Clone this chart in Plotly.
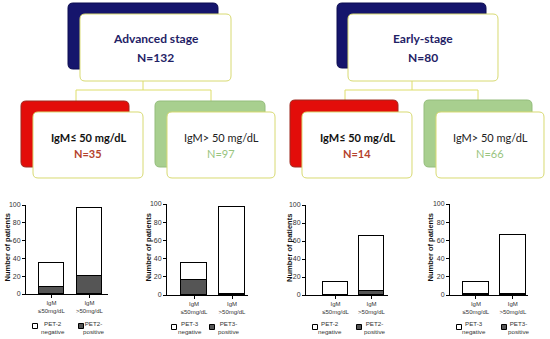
import plotly.graph_objects as go

W, H = 550, 339

# ---------------- data ----------------
categories = ["IgM<br>≤50mg/dL", "IgM<br>>50mg/dL"]
pet2_adv_pos = [8, 20]
pet2_adv_neg = [27, 77]
pet3_adv_pos = [17, 1]
pet3_adv_neg = [18, 96]
pet2_early_pos = [0, 4]
pet2_early_neg = [14, 62]
pet3_early_pos = [1, 1]
pet3_early_neg = [13, 65]
y_ticks = [0, 20, 40, 60, 80, 100]
legend_neg = ["PET-2<br>negative", "PET-3<br>negative", "PET-2<br>negative", "PET-3<br>negative"]
legend_pos = ["PET2-<br>positive", "PET3-<br>positive", "PET2-<br>positive", "PET3-<br>positive"]

stage_titles = ["Advanced stage", "Early-stage"]
stage_n = ["N=132", "N=80"]
low_n = ["N=35", "N=14"]
high_n = ["N=97", "N=66"]

# ---------------- helpers ----------------
def X(px):
    return px / W

def Y(py):
    return 1 - py / H

def rr(x0, y0, x1, y1, r=5):
    pts = [
        ("M", [(x0 + r, y0)]), ("L", [(x1 - r, y0)]), ("Q", [(x1, y0), (x1, y0 + r)]),
        ("L", [(x1, y1 - r)]), ("Q", [(x1, y1), (x1 - r, y1)]), ("L", [(x0 + r, y1)]),
        ("Q", [(x0, y1), (x0, y1 - r)]), ("L", [(x0, y0 + r)]), ("Q", [(x0, y0), (x0 + r, y0)]),
    ]
    s = ""
    for cmd, ps in pts:
        s += cmd + " " + " ".join(f"{X(a):.5f},{Y(b):.5f}" for a, b in ps) + " "
    return s + "Z"

shapes = []
annotations = []

def line(x0, y0, x1, y1, color="#dede6a", w=1):
    shapes.append(dict(type="line", xref="paper", yref="paper", x0=X(x0), y0=Y(y0),
                       x1=X(x1), y1=Y(y1), line=dict(color=color, width=w)))

def box(x0, y0, x1, y1, fill, border, w=1, r=5):
    shapes.append(dict(type="path", xref="paper", yref="paper", path=rr(x0, y0, x1, y1, r),
                       fillcolor=fill, line=dict(color=border, width=w)))

def text(x, y, s, size, color, font="Lato", bold=False, angle=0):
    annotations.append(dict(xref="paper", yref="paper", x=X(x), y=Y(y), text=(f"<b>{s}</b>" if bold else s),
                            showarrow=False, xanchor="center", yanchor="middle", textangle=angle,
                            font=dict(family=font, size=size, color=color)))

# ---------------- flowchart ----------------
FRONT_BORDER = "#d8da72"
NAVY = "#15156c"
sides = [
    dict(top_back=(68, 3, 218, 69), top_front=(80, 14, 231, 81), stem=143, hl=(76, 211),
         red_back=(21, 101, 129, 167), red_front=(33, 112, 143, 178),
         grn_back=(155, 101, 265, 167), grn_front=(167, 112, 275, 178)),
    dict(top_back=(337, 3, 486, 68), top_front=(348, 14, 498, 81), stem=412, hl=(345, 478),
         red_back=(290, 100, 398, 167), red_front=(302, 112, 412, 178),
         grn_back=(424, 100, 532, 167), grn_front=(436, 112, 544, 178)),
]
for i, s in enumerate(sides):
    line(s["stem"], 81, s["stem"], 90)
    line(s["hl"][0], 90, s["hl"][1], 90)
    line(s["hl"][0], 90, s["hl"][0], 101)
    line(s["hl"][1], 90, s["hl"][1], 101)
    box(*s["top_back"], NAVY, "#0d0d50")
    box(*s["top_front"], "white", FRONT_BORDER)
    box(*s["red_back"], "#e30d0a", "#9e2a20")
    box(*s["red_front"], "white", FRONT_BORDER)
    box(*s["grn_back"], "#a8cf8f", "#94bd7c")
    box(*s["grn_front"], "white", FRONT_BORDER)
    tf = s["top_front"]
    cx = (tf[0] + tf[2]) / 2
    text(cx, 38, stage_titles[i], 12, "#1f2266", bold=True)
    text(cx, 57, stage_n[i], 12, "#1f2266", bold=True)
    rf = s["red_front"]
    cx = (rf[0] + rf[2]) / 2
    text(cx, 137, "IgM≤ 50 mg/dL", 11, "#111111", bold=True)
    text(cx, 153, low_n[i], 11, "#b5422c", bold=True)
    gf = s["grn_front"]
    cx = (gf[0] + gf[2]) / 2
    text(cx, 137, "IgM> 50 mg/dL", 11, "#222222")
    text(cx, 153, high_n[i], 11, "#98c47e")

# ---------------- bar charts ----------------
charts = [
    dict(pos=pet2_adv_pos, neg=pet2_adv_neg, dom=(26, 108, 205, 294), rng=[-0.67, 1.49], w=0.66,
         ytitle=7, leg=((35, 326, 53, 327), (81, 326, 94, 327))),
    dict(pos=pet3_adv_pos, neg=pet3_adv_neg, dom=(167, 248, 204, 295), rng=[-0.71, 1.42], w=0.68,
         ytitle=148, leg=((174, 327, 190, 327), (212, 327, 229, 327))),
    dict(pos=pet2_early_pos, neg=pet2_early_neg, dom=(306, 388, 205, 295), rng=[-0.82, 1.46], w=0.72,
         ytitle=289, leg=((315, 327, 330, 327), (359, 327, 375, 327))),
    dict(pos=pet3_early_pos, neg=pet3_early_neg, dom=(450, 528, 204, 295), rng=[-0.70, 1.41], w=0.70,
         ytitle=430, leg=((459, 327, 474, 327), (504, 327, 519, 327))),
]

fig = go.Figure()
layout_axes = {}
AX_FONT = "Liberation Sans"
for i, c in enumerate(charts):
    n = "" if i == 0 else str(i + 1)
    xa, ya = "x" + n, "y" + n
    xs = list(range(len(categories)))
    fig.add_trace(go.Bar(x=xs, y=c["pos"], xaxis=xa, yaxis=ya, width=c["w"],
                         marker=dict(color="#555555", line=dict(color="black", width=1)),
                         showlegend=False, hoverinfo="y"))
    fig.add_trace(go.Bar(x=xs, y=c["neg"], xaxis=xa, yaxis=ya, width=c["w"],
                         marker=dict(color="white", line=dict(color="black", width=1)),
                         showlegend=False, hoverinfo="y"))
    x0, x1, y0, y1 = c["dom"]
    layout_axes["xaxis" + n] = dict(domain=[X(x0), X(x1)], range=c["rng"], tickvals=xs, ticktext=categories,
                                    showline=True, linecolor="black", linewidth=1, ticks="outside",
                                    ticklen=3, tickwidth=1, tickcolor="black", showgrid=False,
                                    zeroline=False, anchor=ya, fixedrange=True, automargin=False,
                                    tickfont=dict(family=AX_FONT, size=6, color="#333333"))
    layout_axes["yaxis" + n] = dict(domain=[Y(y1), Y(y0)], range=[0, 100], tickvals=y_ticks,
                                    showline=True, linecolor="black", linewidth=1, ticks="outside",
                                    ticklen=3, tickwidth=1, tickcolor="black", showgrid=False,
                                    zeroline=False, anchor=xa, fixedrange=True, automargin=False,
                                    tickfont=dict(family=AX_FONT, size=7, color="#333333"))
    text(c["ytitle"], (y0 + y1) / 2 - 2, "Number of patients", 7.5, "#111111", font=AX_FONT, bold=True, angle=-90)
    for (sx, sy, tx, ty), fill, lab in zip(c["leg"], ["white", "#555555"], [legend_neg[i], legend_pos[i]]):
        shapes.append(dict(type="rect", xref="paper", yref="paper", x0=X(sx - 2.5), x1=X(sx + 2.5),
                           y0=Y(sy + 2.5), y1=Y(sy - 2.5), fillcolor=fill,
                           line=dict(color="black", width=1)))
        text(tx, ty, lab, 6.2, "#333333", font=AX_FONT)

fig.update_layout(template="none", width=W, height=H, margin=dict(l=0, r=0, t=0, b=0, pad=0),
                  barmode="stack", paper_bgcolor="white", plot_bgcolor="white", shapes=shapes,
                  annotations=annotations, showlegend=False, bargap=0, **layout_axes)

fig.write_html("out.html", config={"displayModeBar": False},
               post_script="document.body.style.margin='0px';document.body.style.padding='0px';")
